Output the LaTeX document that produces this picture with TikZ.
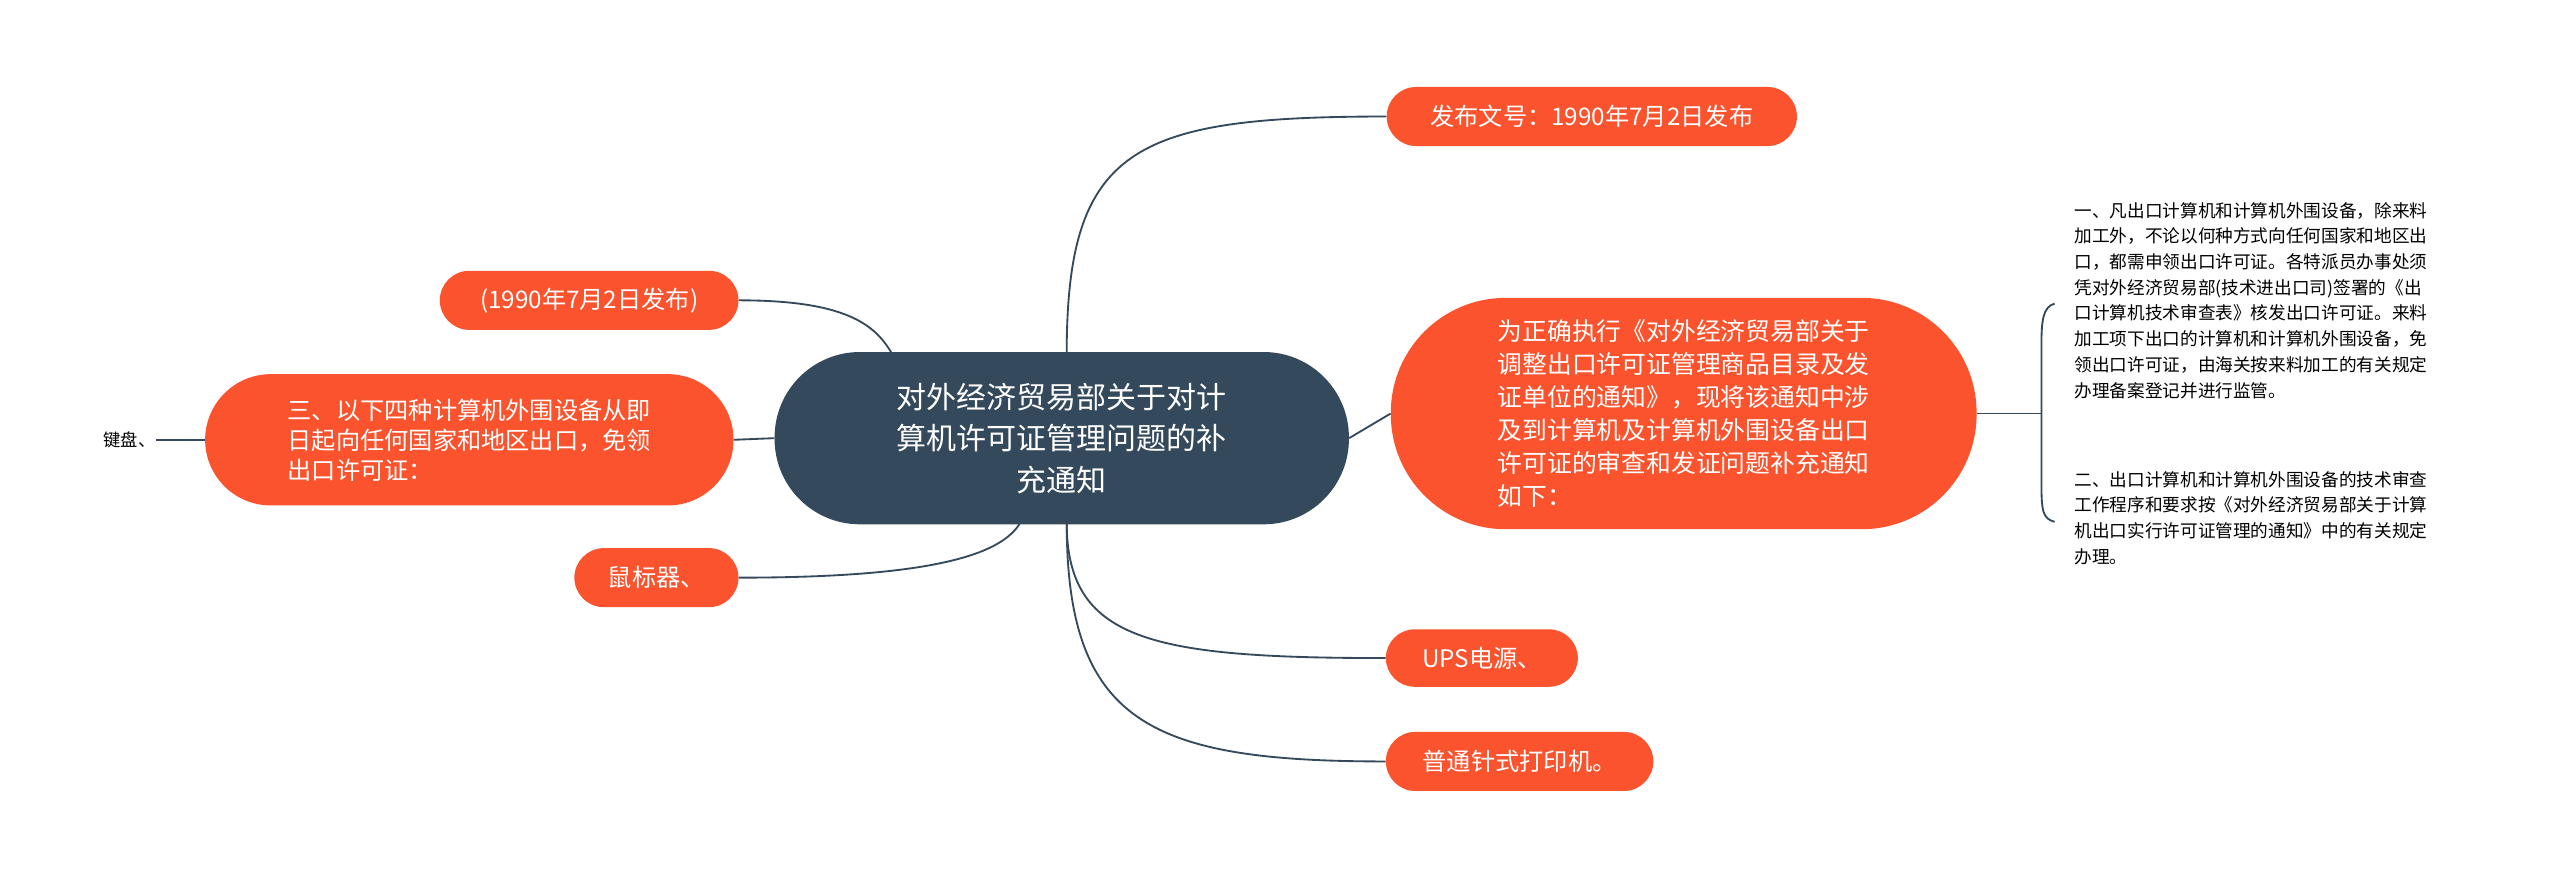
\documentclass[tikz,border=0pt]{standalone}
\usepackage{fontspec}
\setmainfont{Noto Sans CJK SC}
\definecolor{org}{HTML}{FA532E}
\definecolor{dk}{HTML}{344A5C}
\begin{document}
\begin{tikzpicture}[x=0.05cm,y=-0.05cm,
 ob/.style={fill=org,text=white,inner sep=0pt,font=\fontsize{21}{26}\selectfont},
 ln/.style={draw=dk,line width=1.6pt}]
\useasboundingbox[fill=white] (0,0) rectangle (1560,535);
\node[fill=dk,text=white,rounded corners=2.6cm,minimum width=17.5cm,minimum height=5.25cm,align=center,font=\fontsize{26}{36}\selectfont,inner sep=0pt] (c) at (647,267) {对外经济贸易部关于对计\\算机许可证管理问题的补\\充通知};
\node[ob,rounded corners=0.9cm,minimum width=12.5cm,minimum height=1.8cm] (f) at (970,71) {发布文号：1990年7月2日发布};
\node[ob,rounded corners=3.5cm,minimum width=17.85cm,minimum height=7.05cm,align=left,font=\fontsize{21.5}{28.5}\selectfont] (b) at (1026,252) {为正确执行《对外经济贸易部关于\\调整出口许可证管理商品目录及发\\证单位的通知》，现将该通知中涉\\及到计算机及计算机外围设备出口\\许可证的审查和发证问题补充通知\\如下：};
\node[ob,rounded corners=0.875cm,minimum width=5.85cm,minimum height=1.75cm] (u) at (903,401) {UPS电源、};
\node[ob,rounded corners=0.9cm,minimum width=8.15cm,minimum height=1.8cm] (p) at (926,464) {普通针式打印机。};
\node[ob,rounded corners=0.9cm,minimum width=9.1cm,minimum height=1.8cm] (d) at (359,183) {(1990年7月2日发布)};
\node[ob,rounded corners=2cm,minimum width=16.1cm,minimum height=4cm,align=left] (s) at (286,268) {三、以下四种计算机外围设备从即\\日起向任何国家和地区出口，免领\\出口许可证：};
\node[ob,rounded corners=0.9cm,minimum width=5cm,minimum height=1.8cm] (m) at (400,352) {鼠标器、};
\node[font=\fontsize{15}{18}\selectfont,inner sep=0pt] (k) at (79,268) {键盘、};
\node[anchor=north west,align=left,inner sep=0pt,font=\fontsize{15.3}{22.3}\selectfont] (t1) at (1264,123) {一、凡出口计算机和计算机外围设备，除来料\\加工外，不论以何种方式向任何国家和地区出\\口，都需申领出口许可证。各特派员办事处须\\凭对外经济贸易部(技术进出口司)签署的《出\\口计算机技术审查表》核发出口许可证。来料\\加工项下出口的计算机和计算机外围设备，免\\领出口许可证，由海关按来料加工的有关规定\\办理备案登记并进行监管。};
\node[anchor=north west,align=left,inner sep=0pt,font=\fontsize{15.3}{22.3}\selectfont] (t2) at (1264,287) {二、出口计算机和计算机外围设备的技术审查\\工作程序和要求按《对外经济贸易部关于计算\\机出口实行许可证管理的通知》中的有关规定\\办理。};
\coordinate (br) at (1244,252);
\draw[ln] (c.north) ++(0,0) coordinate (c1);
\draw[ln] (650,216) .. controls (650,90) and (690,71) .. (f.west);
\draw[ln] (650,318) .. controls (650,390) and (700,401) .. (u.west);
\draw[ln] (650,318) .. controls (650,440) and (700,464) .. (p.west);
\draw[ln] (c.east) -- (b.west);
\draw[ln] (b.east) -- (br);
\draw[ln] (1252,185) .. controls (1245,187) and (1244,195) .. (1244,210) -- (1244,295) .. controls (1244,312) and (1245,316) .. (1252,318);
\draw[ln] (d.east) .. controls (520,183) and (535,200) .. (545,218);
\draw[ln] (s.east) -- (c.west);
\draw[ln] (m.east) .. controls (560,352) and (610,340) .. (622,318);
\draw[ln] (s.west) -- (k.east);
\end{tikzpicture}
\end{document}
